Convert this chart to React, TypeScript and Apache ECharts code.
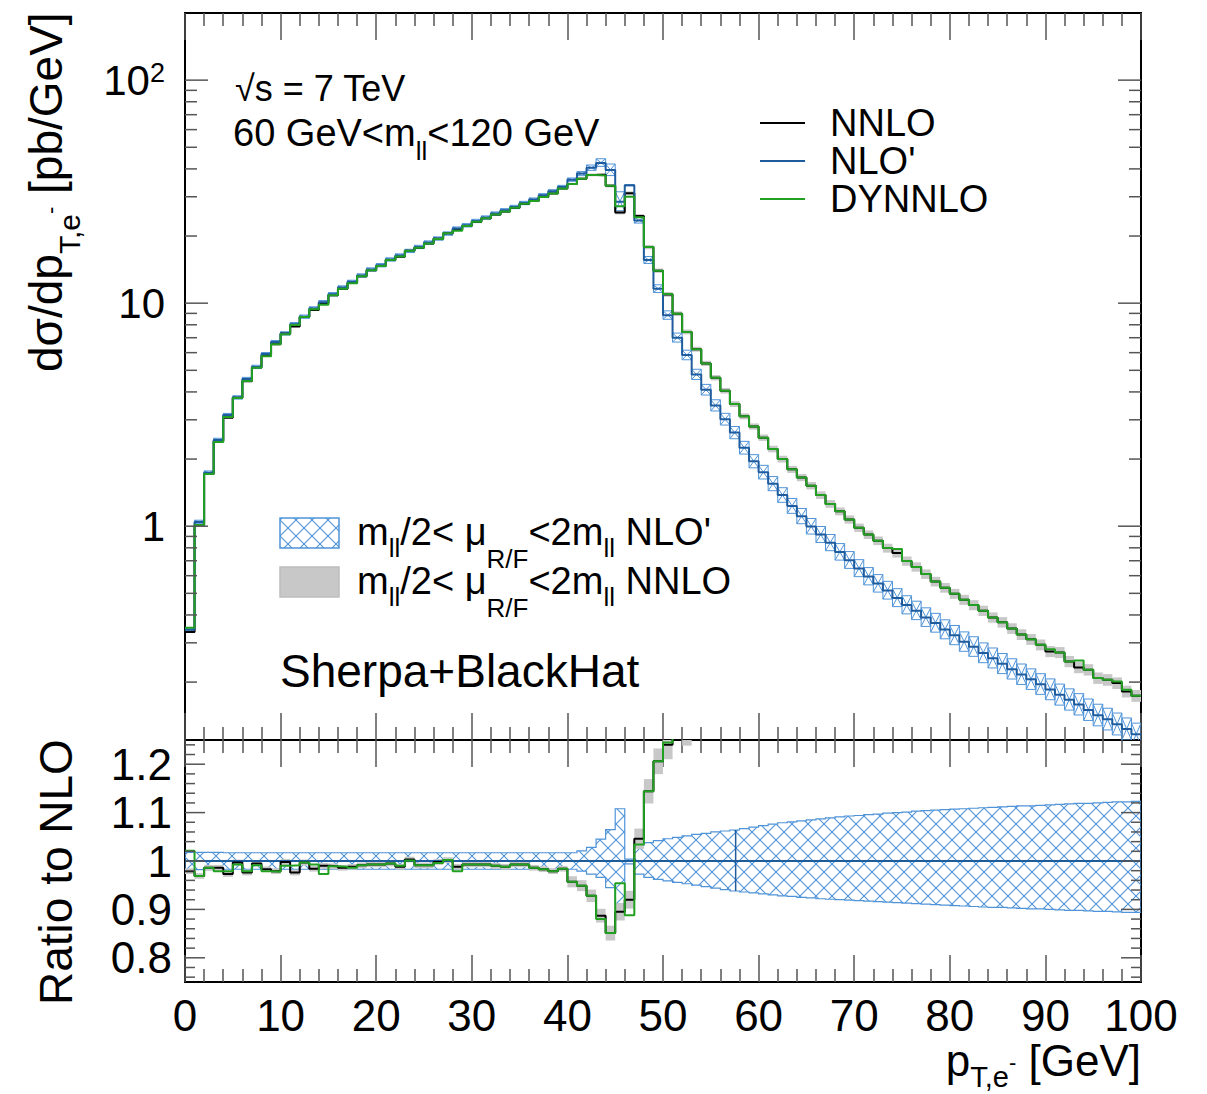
import React, { useEffect, useRef } from "react";
import * as echarts from "echarts";

const FONT = "'Liberation Sans', Arial, Helvetica, sans-serif";

// ---------- data (1 GeV bins from 0 to 100 GeV) ----------
const BIN_W = 1;

// NLO' central values [pb/GeV]
const nloPrime = [
  0.343, 1.045, 1.738, 2.435, 3.15, 3.78, 4.57, 5.18, 5.91, 6.69,
  7.32, 8.05, 8.70, 9.47, 10.10, 10.97, 11.76, 12.46, 13.31, 14.16,
  14.80, 15.70, 16.36, 17.15, 17.87, 18.70, 19.49, 20.52, 21.60, 22.35,
  23.37, 24.20, 25.22, 26.09, 27.00, 28.13, 29.13, 30.45, 31.73, 33.18,
  35.8, 38.1, 40.5, 42.5, 39.5, 28.5, 33.8, 23.5, 15.6, 11.6,
  8.83, 7.0, 5.85, 4.79, 4.09, 3.48, 3.02, 2.63, 2.25, 1.956,
  1.747, 1.551, 1.379, 1.232, 1.109, 0.998, 0.917, 0.843, 0.766, 0.704,
  0.647, 0.595, 0.553, 0.515, 0.477, 0.443, 0.418, 0.390, 0.368, 0.344,
  0.324, 0.303, 0.288, 0.270, 0.256, 0.2415, 0.2286, 0.2164, 0.2058, 0.1956,
  0.1852, 0.1754, 0.1668, 0.1586, 0.1501, 0.1421, 0.1362, 0.1295, 0.1231, 0.1166,
];

// NNLO / NLO' (bins 0..50)
const nnloRatioLow = [
  0.979, 0.969, 0.986, 0.986, 0.973, 0.997, 0.976, 0.995, 0.983, 0.979,
  0.998, 0.976, 0.997, 0.984, 0.990, 0.989, 0.986, 0.988, 0.991, 0.993,
  0.993, 0.995, 0.988, 1.003, 0.991, 0.991, 0.998, 1.002, 0.988, 0.993,
  0.993, 0.993, 0.990, 0.988, 0.993, 0.993, 0.986, 0.983, 0.979, 0.984,
  0.957, 0.949, 0.928, 0.887, 0.851, 0.895, 0.920, 1.046, 1.144, 1.206,
  1.240,
];
// NNLO values (bins 51..99)
const nnloTail = [
  8.97, 7.43, 6.22, 5.37, 4.63, 4.05, 3.53, 3.11, 2.80, 2.495,
  2.22, 2.00, 1.798, 1.652, 1.520, 1.379, 1.259, 1.166, 1.072, 0.985,
  0.917, 0.861, 0.798, 0.759, 0.698, 0.657, 0.610, 0.565, 0.530, 0.498,
  0.468, 0.443, 0.418, 0.390, 0.371, 0.348, 0.327, 0.311, 0.294, 0.2745,
  0.2716, 0.2475, 0.2327, 0.2273, 0.2086, 0.2049, 0.1981, 0.1817, 0.1738,
];

// DYNNLO / NLO' (bins 0..50)
const dynnloRatioLow = [
  1.021, 0.969, 0.986, 0.979, 0.979, 0.993, 0.979, 0.991, 0.979, 0.978,
  0.990, 0.991, 0.997, 0.993, 0.973, 0.989, 0.988, 0.986, 0.991, 0.993,
  0.993, 0.995, 0.990, 1.001, 0.991, 0.991, 0.996, 1.002, 0.979, 0.993,
  0.993, 0.993, 0.990, 0.988, 0.993, 0.993, 0.986, 0.983, 0.979, 0.984,
  0.957, 0.949, 0.928, 0.880, 0.851, 0.954, 0.888, 1.034, 1.144, 1.206,
  1.245,
];
// DYNNLO values (bins 51..99)
const dynnloTail = [
  8.97, 7.43, 6.22, 5.37, 4.63, 4.05, 3.53, 3.11, 2.80, 2.495,
  2.22, 2.00, 1.798, 1.652, 1.520, 1.379, 1.259, 1.166, 1.072, 0.985,
  0.917, 0.861, 0.798, 0.790, 0.698, 0.657, 0.610, 0.565, 0.530, 0.498,
  0.468, 0.443, 0.418, 0.390, 0.371, 0.348, 0.327, 0.311, 0.294, 0.281,
  0.2716, 0.2475, 0.250, 0.2273, 0.2086, 0.2049, 0.2014, 0.185, 0.1738,
];

// NLO' scale band (mll/2 < muR/F < 2mll), relative up / down deviation
const nloBandUp = [
  0.018, 0.018, 0.018, 0.018, 0.017, 0.017, 0.017, 0.017, 0.017, 0.017,
  0.017, 0.017, 0.017, 0.017, 0.017, 0.017, 0.017, 0.017, 0.017, 0.017,
  0.017, 0.017, 0.017, 0.017, 0.017, 0.017, 0.017, 0.017, 0.017, 0.017,
  0.017, 0.017, 0.017, 0.017, 0.017, 0.017, 0.017, 0.017, 0.017, 0.017,
  0.017, 0.021, 0.028, 0.045, 0.065, 0.108, 0.004, 0.032, 0.038, 0.042,
  0.046, 0.049, 0.052, 0.055, 0.057, 0.060, 0.062, 0.064, 0.067, 0.070,
  0.073, 0.076, 0.079, 0.081, 0.083, 0.085, 0.087, 0.089, 0.091, 0.093,
  0.094, 0.096, 0.097, 0.099, 0.100, 0.101, 0.103, 0.104, 0.105, 0.106,
  0.107, 0.108, 0.109, 0.110, 0.111, 0.112, 0.113, 0.114, 0.114, 0.115,
  0.116, 0.117, 0.118, 0.119, 0.119, 0.120, 0.121, 0.122, 0.122, 0.123,
];
const nloBandDown = [
  0.018, 0.018, 0.018, 0.018, 0.017, 0.017, 0.017, 0.017, 0.017, 0.017,
  0.017, 0.017, 0.017, 0.017, 0.017, 0.017, 0.017, 0.017, 0.017, 0.017,
  0.017, 0.017, 0.017, 0.017, 0.017, 0.017, 0.017, 0.017, 0.017, 0.017,
  0.017, 0.017, 0.017, 0.017, 0.017, 0.017, 0.017, 0.017, 0.017, 0.017,
  0.017, 0.021, 0.027, 0.034, 0.055, 0.089, 0.006, 0.027, 0.034, 0.038,
  0.041, 0.044, 0.047, 0.050, 0.053, 0.056, 0.059, 0.062, 0.064, 0.066,
  0.068, 0.070, 0.072, 0.073, 0.075, 0.076, 0.078, 0.079, 0.080, 0.081,
  0.082, 0.083, 0.084, 0.085, 0.086, 0.087, 0.088, 0.089, 0.090, 0.091,
  0.092, 0.093, 0.094, 0.095, 0.096, 0.096, 0.097, 0.098, 0.099, 0.099,
  0.100, 0.101, 0.102, 0.102, 0.103, 0.104, 0.104, 0.105, 0.106, 0.106,
];
// NNLO scale band, relative (symmetric)
const nnloBand = [
  0.006, 0.006, 0.006, 0.006, 0.006, 0.006, 0.006, 0.006, 0.006, 0.006,
  0.006, 0.006, 0.006, 0.006, 0.006, 0.006, 0.006, 0.006, 0.006, 0.006,
  0.006, 0.006, 0.006, 0.006, 0.006, 0.006, 0.006, 0.006, 0.006, 0.006,
  0.006, 0.006, 0.006, 0.006, 0.006, 0.006, 0.006, 0.006, 0.006, 0.006,
  0.012, 0.012, 0.014, 0.016, 0.018, 0.020, 0.020, 0.020, 0.022, 0.022,
  0.024, 0.024, 0.025, 0.026, 0.027, 0.028, 0.029, 0.030, 0.031, 0.032,
  0.033, 0.034, 0.035, 0.036, 0.037, 0.038, 0.039, 0.040, 0.041, 0.042,
  0.043, 0.044, 0.045, 0.046, 0.047, 0.048, 0.048, 0.049, 0.050, 0.050,
  0.051, 0.052, 0.052, 0.053, 0.053, 0.054, 0.055, 0.055, 0.056, 0.056,
  0.057, 0.057, 0.058, 0.058, 0.059, 0.059, 0.060, 0.060, 0.061, 0.061,
];
// position of the break line inside the NLO' ratio band [GeV]
const nloBandBreak = 57.6;

// axis ranges and ticks
const X_MIN = 0, X_MAX = 100;
const Y_MIN = 0.11, Y_MAX = 200;
const R_MIN = 0.75, R_MAX = 1.25;
const logMajorTicks = [1, 10, 100];
const logMinorTicks = [0.2, 0.3, 0.4, 0.5, 0.6, 0.7, 0.8, 0.9, 2, 3, 4, 5, 6, 7, 8, 9, 20, 30, 40, 50, 60, 70, 80, 90];
const ratioMajorTicks = [0.8, 0.9, 1.0, 1.1, 1.2];
const ratioMinorTicks = [0.76, 0.78, 0.82, 0.84, 0.86, 0.88, 0.92, 0.94, 0.96, 0.98, 1.02, 1.04, 1.06, 1.08, 1.12, 1.14, 1.16, 1.18, 1.22, 1.24];

// ---------- derived ----------
const nBins = nloPrime.length;
const bins = nloPrime.map((_, k) => k);
const nnlo = nloPrime.map((v, k) => (k < nnloRatioLow.length ? v * nnloRatioLow[k] : nnloTail[k - nnloRatioLow.length]));
const dynnlo = nloPrime.map((v, k) => (k < dynnloRatioLow.length ? v * dynnloRatioLow[k] : dynnloTail[k - dynnloRatioLow.length]));
const nnloRatio = nnlo.map((v, k) => v / nloPrime[k]);
const dynnloRatio = dynnlo.map((v, k) => v / nloPrime[k]);

function stepPoints(vals: number[]): number[][] {
  const pts: number[][] = [];
  vals.forEach((v, k) => {
    pts.push([k * BIN_W, v]);
    pts.push([(k + 1) * BIN_W, v]);
  });
  return pts;
}

const C_BLACK = "#000000";
const C_BLUE = "#1f5c9e";
const C_HATCH = "#4f93d8";
const C_GREEN = "#22a022";
const C_GRAY = "#c8c8c8";
const C_TICK = "#555555";

function makeHatch(color: string, size: number) {
  const c = document.createElement("canvas");
  c.width = size;
  c.height = size;
  const ctx = c.getContext("2d")!;
  ctx.strokeStyle = color;
  ctx.lineWidth = 1.1;
  ctx.beginPath();
  ctx.moveTo(-2, -2);
  ctx.lineTo(size + 2, size + 2);
  ctx.moveTo(size + 2, -2);
  ctx.lineTo(-2, size + 2);
  ctx.stroke();
  return { image: c, repeat: "repeat", imageWidth: size, imageHeight: size };
}

function tickSeries(name: string, xi: number, yi: number, major: number[], minor: number[], majLen: number, minLen: number) {
  const data = major.map((v) => [X_MIN, v, majLen]).concat(minor.map((v) => [X_MIN, v, minLen]));
  return {
    name,
    type: "custom",
    xAxisIndex: xi,
    yAxisIndex: yi,
    silent: true,
    z: 20,
    data,
    renderItem: (_p: any, api: any) => {
      const v = api.value(1);
      const len = api.value(2);
      const a = api.coord([X_MIN, v]);
      const b = api.coord([X_MAX, v]);
      const st = { stroke: C_TICK, lineWidth: 1.5 };
      return {
        type: "group",
        children: [
          { type: "line", shape: { x1: a[0], y1: a[1], x2: a[0] + len, y2: a[1] }, style: st },
          { type: "line", shape: { x1: b[0] - len, y1: b[1], x2: b[0], y2: b[1] }, style: st },
        ],
      };
    },
  };
}

function xAxisDef(gridIndex: number, position: string, labels: boolean) {
  return {
    type: "value",
    gridIndex,
    position,
    min: X_MIN,
    max: X_MAX,
    interval: 10,
    axisLine: { show: false },
    splitLine: { show: false },
    axisTick: { show: true, inside: true, length: 27, lineStyle: { color: C_TICK, width: 1.5 } },
    minorTick: { show: true, splitNumber: 5, length: 13, lineStyle: { color: C_TICK, width: 1.5 } },
    axisLabel: {
      show: labels,
      fontSize: 44,
      lineHeight: 40,
      fontFamily: FONT,
      color: "#000",
      margin: 13,
    },
  };
}

export default function App() {
  const ref = useRef<HTMLDivElement>(null);

  useEffect(() => {
    if (!ref.current) return;
    const chart = echarts.init(ref.current, undefined, { renderer: "svg" });
    const hatch = makeHatch(C_HATCH, 16);
    const hatchLegend = makeHatch(C_HATCH, 16);

    const upBand = {
      name: "NLO' scale band",
      type: "custom",
      xAxisIndex: 0,
      yAxisIndex: 0,
      silent: true,
      clip: true,
      z: 2,
      data: bins.map((k) => [k * BIN_W, nloPrime[k], k]),
      renderItem: (_p: any, api: any) => {
        const k = api.value(2);
        const v = nloPrime[k];
        const a = api.coord([k * BIN_W, v * (1 + nloBandUp[k])]);
        const b = api.coord([(k + 1) * BIN_W, v * (1 - nloBandDown[k])]);
        const st = { stroke: C_HATCH, lineWidth: 1, fill: "none" };
        return {
          type: "group",
          children: [
            { type: "rect", shape: { x: a[0], y: a[1], width: b[0] - a[0], height: b[1] - a[1] }, style: st },
            { type: "line", shape: { x1: a[0], y1: a[1], x2: b[0], y2: b[1] }, style: st },
            { type: "line", shape: { x1: a[0], y1: b[1], x2: b[0], y2: a[1] }, style: st },
          ],
        };
      },
    };

    const nnloUpBand = {
      name: "NNLO scale band",
      type: "custom",
      xAxisIndex: 0,
      yAxisIndex: 0,
      silent: true,
      clip: true,
      z: 1,
      data: bins.map((k) => [k * BIN_W, nnlo[k], k]),
      renderItem: (_p: any, api: any) => {
        const k = api.value(2);
        const v = nnlo[k];
        const a = api.coord([k * BIN_W, v * (1 + nnloBand[k])]);
        const b = api.coord([(k + 1) * BIN_W, v * (1 - nnloBand[k])]);
        return { type: "rect", shape: { x: a[0], y: a[1], width: b[0] - a[0], height: b[1] - a[1] }, style: { fill: C_GRAY } };
      },
    };

    const ratioBand = {
      name: "NLO' scale band ratio",
      type: "custom",
      xAxisIndex: 2,
      yAxisIndex: 1,
      silent: true,
      clip: true,
      z: 1,
      data: [[X_MIN, 1]],
      renderItem: (_p: any, api: any) => {
        const pts: number[][] = [];
        for (let k = 0; k < nBins; k++) {
          pts.push(api.coord([k * BIN_W, 1 + nloBandUp[k]]));
          pts.push(api.coord([(k + 1) * BIN_W, 1 + nloBandUp[k]]));
        }
        for (let k = nBins - 1; k >= 0; k--) {
          pts.push(api.coord([(k + 1) * BIN_W, 1 - nloBandDown[k]]));
          pts.push(api.coord([k * BIN_W, 1 - nloBandDown[k]]));
        }
        const kb = Math.floor(nloBandBreak / BIN_W);
        const s = api.coord([nloBandBreak, 1 + nloBandUp[kb]]);
        const e = api.coord([nloBandBreak, 1 - nloBandDown[kb]]);
        return {
          type: "group",
          children: [
            { type: "polygon", shape: { points: pts }, style: { fill: hatch, stroke: C_HATCH, lineWidth: 1.2 } },
            { type: "line", shape: { x1: s[0], y1: s[1], x2: e[0], y2: e[1] }, style: { stroke: C_BLUE, lineWidth: 1.5 } },
          ],
        };
      },
    };

    const nnloRatioBand = {
      name: "NNLO scale band ratio",
      type: "custom",
      xAxisIndex: 2,
      yAxisIndex: 1,
      silent: true,
      clip: true,
      z: 2,
      data: bins.map((k) => [k * BIN_W, nnloRatio[k], k]),
      renderItem: (_p: any, api: any) => {
        const k = api.value(2);
        const r = nnloRatio[k];
        const a = api.coord([k * BIN_W, r * (1 + nnloBand[k])]);
        const b = api.coord([(k + 1) * BIN_W, r * (1 - nnloBand[k])]);
        return { type: "rect", shape: { x: a[0], y: a[1], width: b[0] - a[0], height: b[1] - a[1] }, style: { fill: C_GRAY } };
      },
    };

    const line = (name: string, xi: number, yi: number, data: number[][], color: string, z: number) => ({
      name,
      type: "line",
      xAxisIndex: xi,
      yAxisIndex: yi,
      data,
      symbol: "none",
      silent: true,
      clip: true,
      z,
      color,
      itemStyle: { color },
      lineStyle: { color, width: 2 },
    });

    const richSub = (main: number, sub: number, pad: number) => ({
      m: { fontSize: main, lineHeight: main, verticalAlign: "top", fontFamily: FONT, fill: "#000" },
      s: { fontSize: sub, lineHeight: sub, verticalAlign: "top", padding: [pad, 0, 0, 0], fontFamily: FONT, fill: "#000" },
    });

    const legRich = {
      m: { fontSize: 38, lineHeight: 38, verticalAlign: "top", fontFamily: FONT, fill: "#000" },
      s: { fontSize: 26, lineHeight: 26, verticalAlign: "top", padding: [22, 0, 0, 0], fontFamily: FONT, fill: "#000" },
      r: { fontSize: 26, lineHeight: 26, verticalAlign: "top", padding: [33, 0, 0, 0], fontFamily: FONT, fill: "#000" },
    };

    const titleRich = (main: number, sub: number, subLh: number, subPad: number, supPad: number) => ({
      m: { fontSize: main, lineHeight: main, verticalAlign: "top", fontFamily: FONT, fill: "#000" },
      s: { fontSize: sub, lineHeight: subLh, verticalAlign: "top", padding: [subPad, 0, 0, 0], fontFamily: FONT, fill: "#000" },
      u: { fontSize: 22, lineHeight: 22, verticalAlign: "top", padding: [supPad, 0, 0, 0], fontFamily: FONT, fill: "#000" },
    });

    const option: any = {
      animation: false,
      backgroundColor: "#ffffff",
      grid: [
        { left: 185, top: 13, width: 956, height: 727, show: true, borderColor: "#000", borderWidth: 2, backgroundColor: "transparent", containLabel: false, outerBoundsMode: "none" },
        { left: 185, top: 740, width: 956, height: 242, show: true, borderColor: "#000", borderWidth: 2, backgroundColor: "transparent", containLabel: false, outerBoundsMode: "none" },
      ],
      xAxis: [xAxisDef(0, "bottom", false), xAxisDef(0, "top", false), xAxisDef(1, "bottom", true), xAxisDef(1, "top", false)],
      yAxis: [
        {
          type: "log",
          logBase: 10,
          gridIndex: 0,
          min: Y_MIN,
          max: Y_MAX,
          axisLine: { show: false },
          axisTick: { show: false },
          minorTick: { show: false },
          splitLine: { show: false },
          axisLabel: {
            fontSize: 42,
            fontFamily: FONT,
            color: "#000",
            margin: 20,
            formatter: (v: number) => {
              const l = Math.log10(v);
              if (Math.abs(l - Math.round(l)) > 1e-6) return "";
              if (v > 50) return "{b|10}{p|2}";
              return "{b|" + String(Math.round(v)) + "}";
            },
            rich: {
              b: { fontSize: 42, lineHeight: 42, verticalAlign: "top", fontFamily: FONT, color: "#000" },
              p: { fontSize: 27, lineHeight: 27, verticalAlign: "top", fontFamily: FONT, color: "#000" },
            },
          },
        },
        {
          type: "value",
          gridIndex: 1,
          min: R_MIN,
          max: R_MAX,
          interval: 0.05,
          axisLine: { show: false },
          axisTick: { show: false },
          minorTick: { show: false },
          splitLine: { show: false },
          axisLabel: {
            fontSize: 44,
            fontFamily: FONT,
            color: "#000",
            margin: 13,
            formatter: (v: number) => {
              const t = Math.round(v * 10);
              if (Math.abs(v * 10 - t) > 1e-6) return "";
              return String(t / 10);
            },
          },
        },
      ],
      legend: {
        data: ["NNLO", "NLO'", "DYNNLO"],
        orient: "vertical",
        left: 760,
        top: 104,
        padding: 0,
        icon: "rect",
        itemWidth: 45,
        itemHeight: 2,
        itemGap: 0,
        selectedMode: false,
        textStyle: { fontSize: 38, lineHeight: 37, fontFamily: FONT, color: "#000", padding: [0, 0, 0, 20] },
      },
      series: [
        nnloUpBand,
        upBand,
        line("NNLO", 0, 0, stepPoints(nnlo), C_BLACK, 3),
        line("NLO'", 0, 0, stepPoints(nloPrime), C_BLUE, 4),
        line("DYNNLO", 0, 0, stepPoints(dynnlo), C_GREEN, 5),
        tickSeries("log ticks", 0, 0, logMajorTicks, logMinorTicks, 23, 12),
        ratioBand,
        nnloRatioBand,
        line("NLO' ratio", 2, 1, [[X_MIN, 1], [X_MAX, 1]], C_BLUE, 3),
        line("NNLO ratio", 2, 1, stepPoints(nnloRatio), C_BLACK, 4),
        line("DYNNLO ratio", 2, 1, stepPoints(dynnloRatio), C_GREEN, 5),
        tickSeries("ratio ticks", 2, 1, ratioMajorTicks, ratioMinorTicks, 20, 10),
      ],
      graphic: [
        { type: "text", x: 235, y: 88, style: { text: "√s = 7 TeV", fontSize: 36, fontFamily: FONT, fill: "#000", verticalAlign: "middle" } },
        {
          type: "text",
          x: 233,
          y: 114,
          style: { text: "{m|60 GeV<m}{s|ll}{m|<120 GeV}", rich: richSub(38, 26, 24), verticalAlign: "top" },
        },
        { type: "rect", shape: { x: 280, y: 518, width: 59, height: 30 }, style: { fill: hatchLegend, stroke: C_HATCH, lineWidth: 1.5 } },
        { type: "rect", shape: { x: 280, y: 567, width: 59, height: 30 }, style: { fill: C_GRAY, stroke: "#bdbdbd", lineWidth: 1.5 } },
        {
          type: "text",
          x: 357,
          y: 513,
          style: { text: "{m|m}{s|ll}{m|/2< μ}{r|R/F}{m|<2m}{s|ll}{m| NLO'}", rich: legRich, verticalAlign: "top" },
        },
        {
          type: "text",
          x: 357,
          y: 562,
          style: { text: "{m|m}{s|ll}{m|/2< μ}{r|R/F}{m|<2m}{s|ll}{m| NNLO}", rich: legRich, verticalAlign: "top" },
        },
        { type: "text", x: 280, y: 671, style: { text: "Sherpa+BlackHat", fontSize: 46, fontFamily: FONT, fill: "#000", verticalAlign: "middle" } },
        {
          type: "text",
          x: 23,
          y: 372,
          rotation: Math.PI / 2,
          style: { text: "{m|dσ/dp}{s|T,e}{u|-}{m| [pb/GeV]}", rich: titleRich(46, 30, 30, 31, 16), align: "left", verticalAlign: "top" },
        },
        {
          type: "text",
          x: 33,
          y: 1005,
          rotation: Math.PI / 2,
          style: { text: "Ratio to NLO", fontSize: 46, fontFamily: FONT, fill: "#000", align: "left", verticalAlign: "top" },
        },
        {
          type: "text",
          x: 1141,
          y: 1038,
          style: { text: "{m|p}{s|T,e}{u|-}{m| [GeV]}", rich: titleRich(44, 29, 25, 24, 13), align: "right", verticalAlign: "top" },
        },
      ],
    };

    chart.setOption(option);
    return () => chart.dispose();
  }, []);

  return (
    <div
      ref={ref}
      style={{ position: "absolute", left: 0, top: 0, width: 1207, height: 1094, background: "#fff" }}
    />
  );
}
